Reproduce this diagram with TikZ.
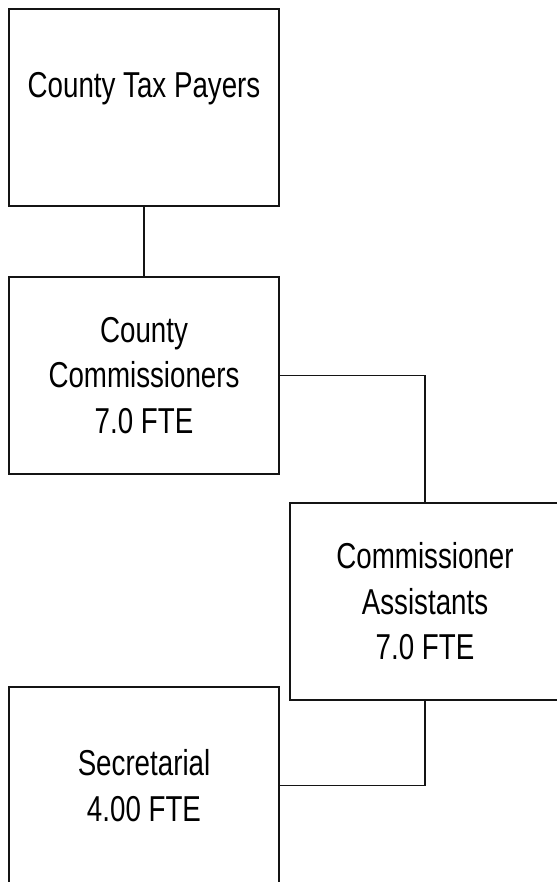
\documentclass[tikz,border=0pt]{standalone}
\usepackage{fontspec}
\newfontfamily\boxfont[FakeStretch=0.77]{Liberation Sans}

\begin{document}
\begin{tikzpicture}[x=1pt, y=-1pt]

\def\boxw{270pt}
\def\boxh{197pt}
\def\linew{1.5pt}
\definecolor{linegray}{RGB}{20,20,20}

\tikzset{
  orgbox/.style={draw=linegray, line width=\linew, minimum width=\boxw, minimum height=\boxh,
    inner sep=0pt, align=center, font=\boxfont\fontsize{36}{45.5}\selectfont},
  orgline/.style={draw=linegray, line width=\linew}
}

\useasboundingbox (0,0) rectangle (556,882);

% Kaesten
\node[orgbox] (payers) at (144,107.5) {County Tax Payers\\ \mbox{}};
\node[orgbox] (commissioners) at (144,375.5) {County\\Commissioners\\7.0 FTE};
\node[orgbox] (assistants) at (425,601.5) {Commissioner\\Assistants\\7.0 FTE};
\node[orgbox] (secretarial) at (144,785.5) {Secretarial\\4.00 FTE};

% Verbindungen
\draw[orgline] (payers) -- (commissioners);
\draw[orgline] (commissioners.east) -| (assistants.north);
\draw[orgline] (assistants.south) |- (secretarial.east);

\end{tikzpicture}
\end{document}
